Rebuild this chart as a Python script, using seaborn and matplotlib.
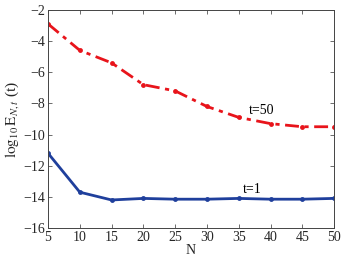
import matplotlib
matplotlib.use("Agg")
import matplotlib.pyplot as plt
import seaborn as sns
import pandas as pd

# values
N = [5, 10, 15, 20, 25, 30, 35, 40, 45, 50]
err_t50 = [-2.9, -4.6, -5.4, -6.8, -7.2, -8.2, -8.9, -9.3, -9.5, -9.5]
err_t1 = [-11.2, -13.7, -14.2, -14.1, -14.15, -14.15, -14.1, -14.15, -14.15, -14.1]

df = pd.DataFrame({"N": N, "t50": err_t50, "t1": err_t1})

sns.set_theme(style="white")
plt.rcParams['font.family'] = ['Liberation Serif', 'DejaVu Serif']
plt.rcParams['mathtext.fontset'] = 'stix'
plt.rcParams['xtick.direction'] = 'in'
plt.rcParams['ytick.direction'] = 'in'

fig = plt.figure(figsize=(3.48, 2.6), dpi=100)
ax = fig.add_axes([0.138, 0.123, 0.822, 0.839])

sns.lineplot(data=df, x="N", y="t50", ax=ax, color="#e8141b", linewidth=2,
             marker="o", markersize=3.5, markeredgewidth=0)
ax.lines[-1].set_dashes([5, 2, 1.5, 2])
sns.lineplot(data=df, x="N", y="t1", ax=ax, color="#1f3f9c", linewidth=2,
             marker="o", markersize=3.5, markeredgewidth=0)

ax.text(36.6, -8.7, "t=50", fontsize=10, color="black")
ax.text(35.7, -13.75, "t=1", fontsize=10, color="black")

ax.set_xlim(5, 50)
ax.set_ylim(-16, -2)
ax.set_xticks(range(5, 51, 5))
ax.set_yticks(range(-16, -1, 2))
ax.set_yticklabels(["\u2212%d" % abs(v) for v in range(-16, -1, 2)])
ax.tick_params(axis="both", labelsize=10, length=3, width=0.6, color="#555555",
               top=True, right=True, bottom=True, left=True, pad=2)
for s in ax.spines.values():
    s.set_linewidth(0.7)
    s.set_color("#444444")

ax.set_xlabel("N", fontsize=10, labelpad=0)
ax.set_ylabel(r"$\log_{10}\mathrm{E}_{N,t}$ (t)", fontsize=11, labelpad=2)

fig.savefig("out.png", dpi=100)
